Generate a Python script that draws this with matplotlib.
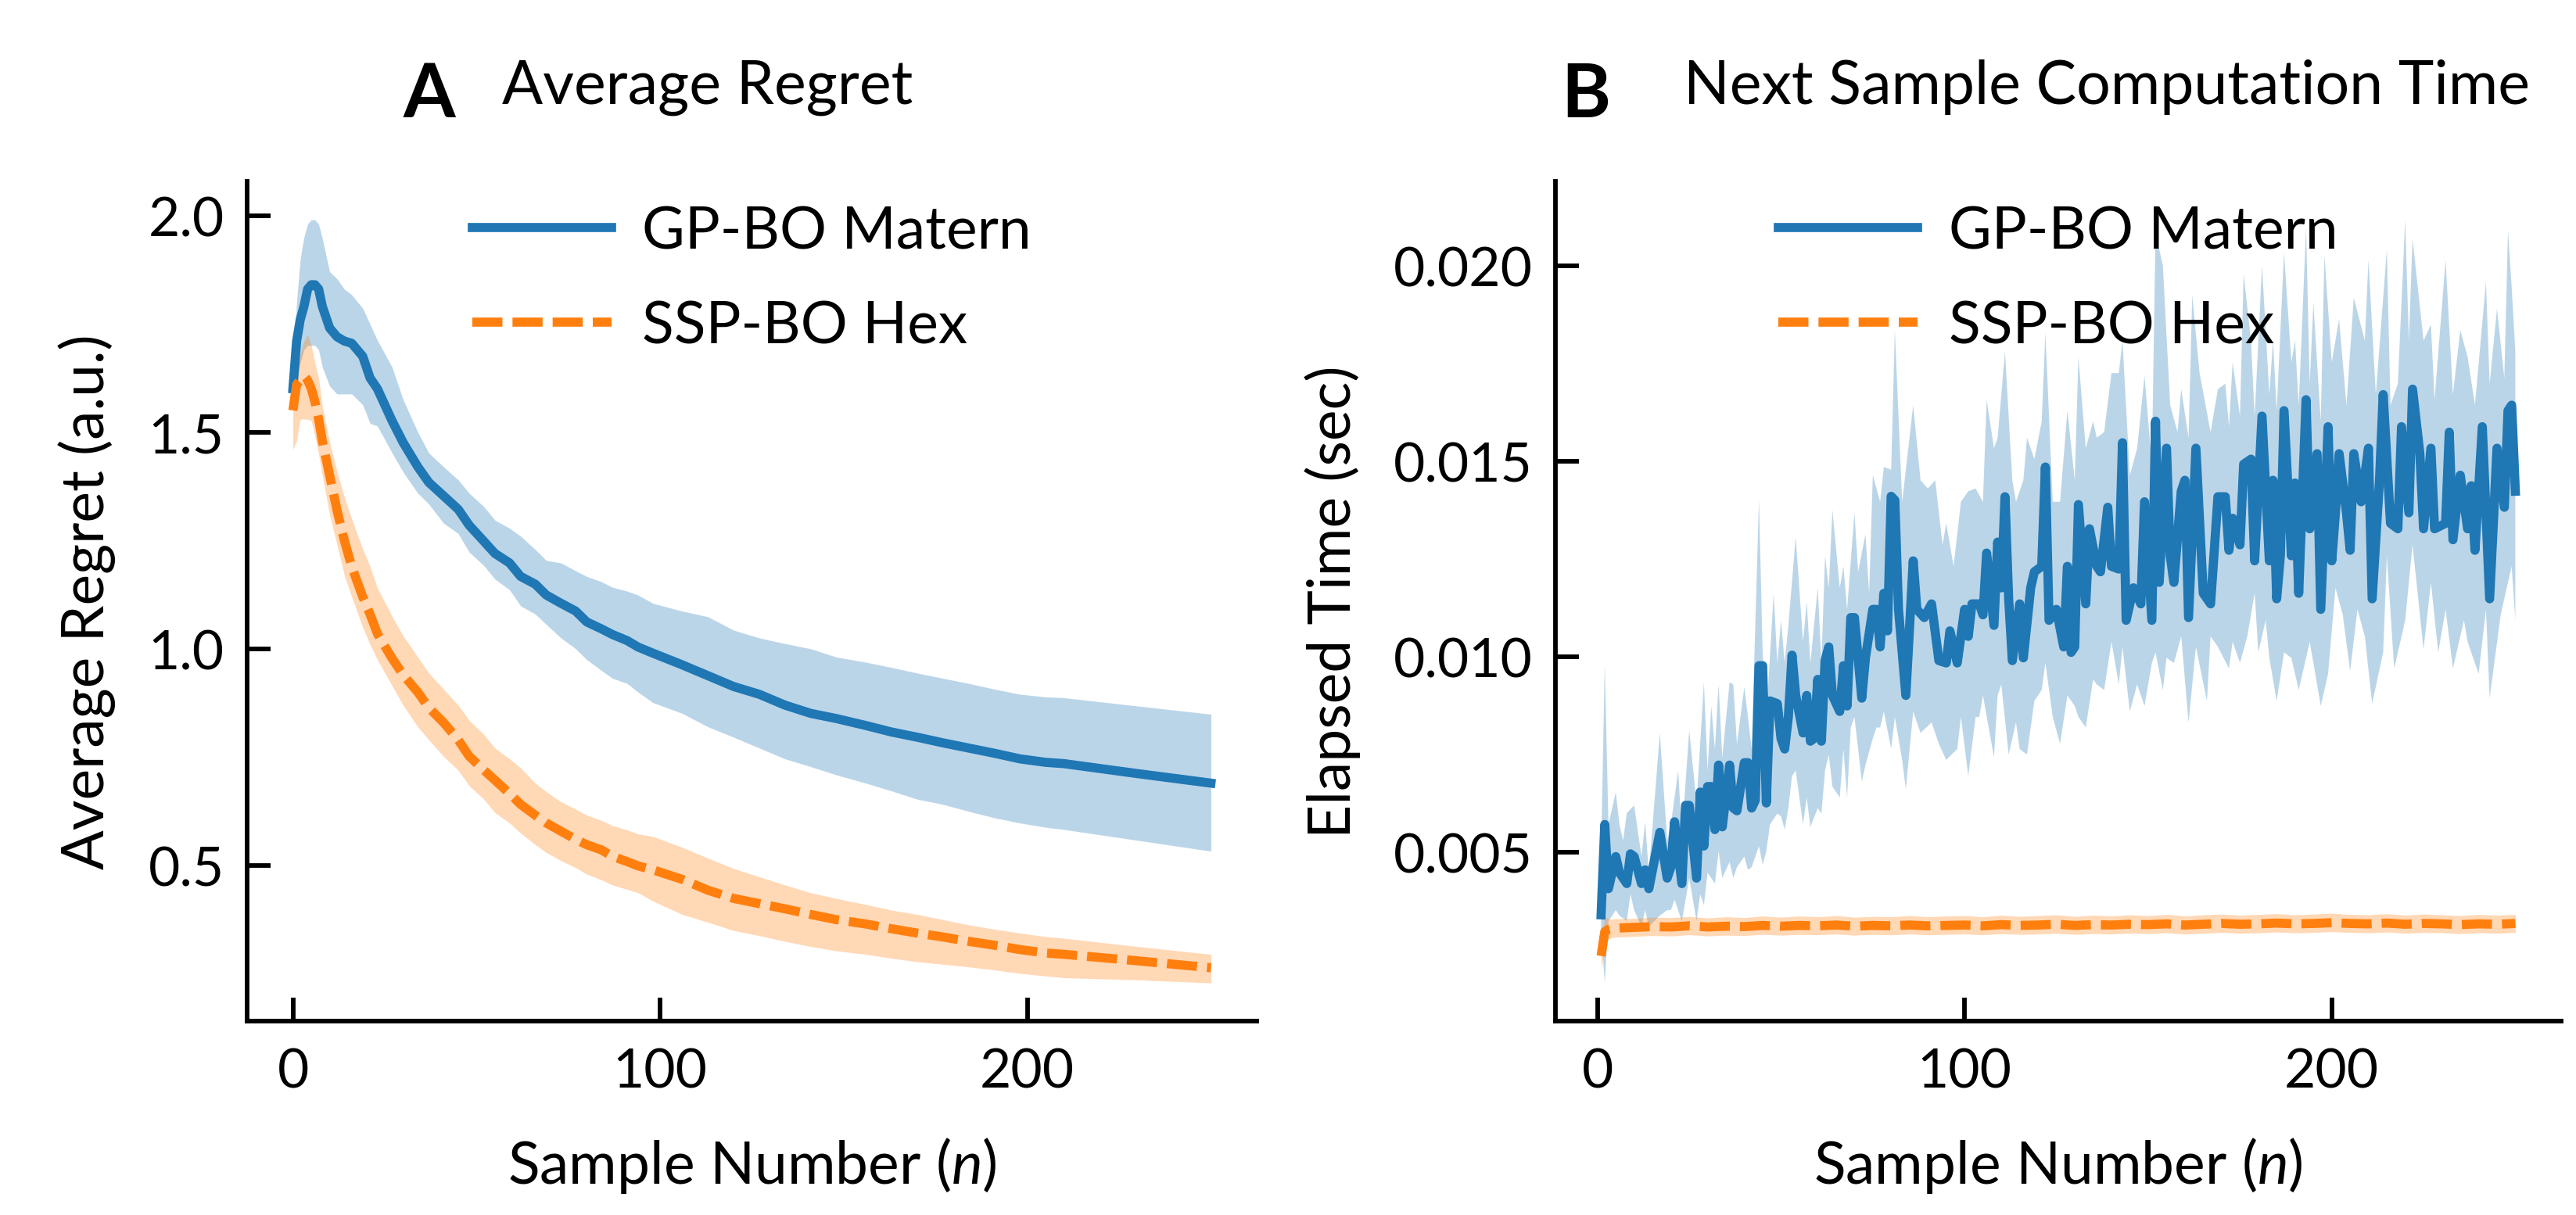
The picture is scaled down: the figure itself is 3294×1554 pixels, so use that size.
import numpy as np
import matplotlib
matplotlib.use("Agg")
import matplotlib.pyplot as plt

plt.rcParams['font.family'] = ['Lato', 'DejaVu Sans']
plt.rcParams['mathtext.fontset'] = 'custom'
plt.rcParams['mathtext.rm'] = 'Lato'
plt.rcParams['mathtext.it'] = 'Lato:italic'

blue = '#1f77b4'
orange = '#ff7f0e'

# ---- panel A: average regret ----
a_x = [0, 1, 2, 3, 4, 5, 6, 7, 8, 10, 12, 14, 16, 19, 21, 23, 27, 30, 34, 37, 41, 45, 48,
       52, 55, 59, 62, 66, 69, 73, 77, 80, 84, 87, 91, 94, 98, 106, 113, 120, 127, 134,
       141, 148, 156, 163, 170, 177, 184, 191, 198, 205, 210, 230, 250]
gp_mean = [1.60, 1.71, 1.76, 1.79, 1.83, 1.84, 1.84, 1.83, 1.79, 1.74, 1.72, 1.71, 1.705,
           1.675, 1.625, 1.60, 1.526, 1.476, 1.42, 1.384, 1.353, 1.322, 1.285, 1.248, 1.22,
           1.198, 1.167, 1.149, 1.124, 1.105, 1.087, 1.062, 1.046, 1.033, 1.019, 1.004, 0.99,
           0.963, 0.938, 0.913, 0.895, 0.87, 0.851, 0.839, 0.823, 0.808, 0.796, 0.783, 0.771,
           0.759, 0.746, 0.738, 0.735, 0.712, 0.69]
gp_hi = [1.64, 1.80, 1.90, 1.95, 1.98, 1.99, 1.99, 1.98, 1.947, 1.87, 1.854, 1.83, 1.817,
         1.786, 1.749, 1.712, 1.65, 1.575, 1.50, 1.452, 1.42, 1.39, 1.359, 1.328, 1.297,
         1.278, 1.26, 1.229, 1.204, 1.198, 1.18, 1.167, 1.155, 1.142, 1.133, 1.124, 1.105,
         1.087, 1.074, 1.043, 1.025, 1.012, 1.0, 0.981, 0.969, 0.957, 0.944, 0.932, 0.92,
         0.907, 0.895, 0.889, 0.887, 0.868, 0.849]
gp_lo = [1.58, 1.62, 1.66, 1.69, 1.70, 1.70, 1.70, 1.69, 1.65, 1.606, 1.588, 1.588, 1.588,
         1.563, 1.52, 1.514, 1.452, 1.408, 1.359, 1.334, 1.29, 1.266, 1.223, 1.192, 1.161,
         1.136, 1.099, 1.08, 1.056, 1.025, 1.0, 0.975, 0.95, 0.932, 0.92, 0.90, 0.876,
         0.851, 0.82, 0.796, 0.771, 0.746, 0.728, 0.709, 0.69, 0.672, 0.653, 0.641, 0.625,
         0.61, 0.598, 0.588, 0.583, 0.558, 0.533]
ssp_mean = [1.55, 1.61, 1.62, 1.63, 1.62, 1.60, 1.57, 1.53, 1.48, 1.40, 1.32, 1.25, 1.19,
            1.12, 1.08, 1.035, 0.978, 0.94, 0.90, 0.864, 0.83, 0.79, 0.752, 0.72, 0.697,
            0.666, 0.641, 0.616, 0.598, 0.579, 0.56, 0.548, 0.536, 0.521, 0.509, 0.499, 0.49,
            0.468, 0.443, 0.424, 0.412, 0.40, 0.387, 0.375, 0.365, 0.354, 0.344, 0.335, 0.325,
            0.316, 0.306, 0.298, 0.295, 0.28, 0.264]
ssp_hi = [1.58, 1.62, 1.68, 1.71, 1.724, 1.70, 1.66, 1.625, 1.56, 1.476, 1.41, 1.35, 1.30,
          1.23, 1.19, 1.14, 1.075, 1.03, 0.981, 0.944, 0.907, 0.87, 0.835, 0.802, 0.771,
          0.746, 0.725, 0.69, 0.67, 0.647, 0.63, 0.616, 0.604, 0.592, 0.582, 0.573, 0.567,
          0.542, 0.517, 0.493, 0.474, 0.455, 0.437, 0.424, 0.41, 0.397, 0.387, 0.375, 0.363,
          0.353, 0.344, 0.336, 0.332, 0.313, 0.295]
ssp_lo = [1.46, 1.48, 1.53, 1.53, 1.53, 1.526, 1.49, 1.45, 1.40, 1.31, 1.24, 1.17, 1.12,
          1.05, 1.01, 0.975, 0.915, 0.87, 0.82, 0.79, 0.752, 0.72, 0.684, 0.653, 0.622,
          0.598, 0.575, 0.548, 0.53, 0.511, 0.495, 0.48, 0.467, 0.455, 0.445, 0.437, 0.418,
          0.387, 0.369, 0.35, 0.338, 0.325, 0.313, 0.303, 0.295, 0.286, 0.278, 0.272, 0.266,
          0.259, 0.251, 0.245, 0.241, 0.236, 0.229]

# ---- panel B: computation time ----
b_gp_x = [1, 2, 3, 5, 6, 8, 9, 10, 12, 13, 14, 17, 19, 20, 21, 23, 24, 25, 27, 28, 29, 30,
          31, 32, 33, 34, 36, 37, 38, 40, 41, 42, 43, 44, 45, 46, 47, 49, 50, 51, 52, 53, 54,
          56, 57, 58, 59, 60, 61, 62, 63, 64, 66, 67, 68, 69, 70, 72, 73, 75, 76, 77, 78, 79,
          80, 81, 82, 83, 84, 86, 87, 89, 91, 93, 95, 96, 98, 100, 101, 102, 104, 105, 106,
          108, 109, 110, 111, 112, 113, 115, 116, 118, 119, 121, 122, 123, 125, 127, 128,
          129, 130, 131, 133, 134, 136, 137, 139, 140, 142, 143, 144, 146, 148, 149, 151,
          152, 153, 155, 156, 157, 159, 160, 161, 163, 165, 167, 169, 171, 172, 173, 175,
          176, 178, 179, 181, 183, 184, 185, 186, 187, 189, 190, 191, 193, 194, 196, 197,
          199, 200, 201, 202, 204, 205, 206, 208, 210, 211, 213, 214, 216, 218, 219, 221,
          222, 224, 225, 227, 228, 231, 232, 233, 235, 237, 238, 239, 241, 243, 245, 247,
          248, 249, 250]
b_gp_mean = [0.0034, 0.00571, 0.00407, 0.00489, 0.00448, 0.0042, 0.00496, 0.00489, 0.0042,
             0.00455, 0.00407, 0.00551, 0.00434, 0.00462, 0.00578, 0.0042, 0.0062, 0.0062,
             0.00434, 0.00654, 0.00516, 0.00668, 0.00668, 0.00558, 0.00723, 0.00565, 0.00723,
             0.00613, 0.00606, 0.00729, 0.00729, 0.00613, 0.00633, 0.00977, 0.00977, 0.00626,
             0.00887, 0.0088, 0.00791, 0.00764, 0.00846, 0.01004, 0.00901, 0.00805, 0.00901,
             0.00784, 0.00791, 0.00942, 0.00784, 0.0099, 0.01025, 0.00901, 0.0086, 0.00977,
             0.00874, 0.0110, 0.0110, 0.00894, 0.00997, 0.01121, 0.01121, 0.01025, 0.01162,
             0.01066, 0.0141, 0.0140, 0.01121, 0.01011, 0.00901, 0.01245, 0.01121, 0.011,
             0.01135, 0.0099, 0.00984, 0.01066, 0.00984, 0.01121, 0.01052, 0.01135, 0.01135,
             0.01107, 0.01265, 0.0108, 0.01293, 0.01176, 0.01409, 0.01148, 0.0099, 0.01135,
             0.00997, 0.01176, 0.01217, 0.01231, 0.01485, 0.01093, 0.01121, 0.01025, 0.01231,
             0.01011, 0.01025, 0.01389, 0.01135, 0.01327, 0.01231, 0.01217, 0.01382, 0.01231,
             0.01224, 0.01547, 0.01093, 0.01176, 0.01135, 0.01396, 0.01093, 0.01602, 0.0119,
             0.01533, 0.01258, 0.0119, 0.01423, 0.01451, 0.011, 0.01533, 0.01162, 0.01135,
             0.01409, 0.01409, 0.01272, 0.01354, 0.01286, 0.01492, 0.01505, 0.01245, 0.01615,
             0.01245, 0.01451, 0.01148, 0.01258, 0.01629, 0.01258, 0.01444, 0.01162, 0.01657,
             0.01327, 0.01519, 0.01121, 0.01588, 0.01245, 0.01368, 0.01519, 0.01368, 0.01272,
             0.01519, 0.01396, 0.01533, 0.01148, 0.01451, 0.0167, 0.01341, 0.01327, 0.01588,
             0.01368, 0.01684, 0.01519, 0.01327, 0.01533, 0.01327, 0.01341, 0.01574, 0.01299,
             0.01464, 0.01327, 0.01437, 0.01272, 0.01588, 0.01148, 0.01533, 0.01382, 0.01629,
             0.01643, 0.01423]

b_hi_x = [1, 2, 3, 5, 6, 7, 8, 10, 12, 13, 14, 17, 19, 20, 22, 23, 25, 27, 29, 30, 31, 32,
          33, 34, 36, 37, 38, 40, 41, 42, 44, 45, 46, 48, 49, 50, 51, 52, 54, 56, 57, 58, 60,
          61, 62, 63, 64, 66, 67, 68, 70, 71, 73, 74, 75, 77, 78, 80, 81, 83, 86, 88, 90, 92,
          94, 95, 97, 99, 101, 103, 105, 106, 108, 109, 111, 113, 114, 116, 117, 119, 121,
          122, 124, 126, 128, 130, 131, 133, 135, 136, 138, 140, 142, 143, 145, 147, 149,
          151, 152, 154, 156, 158, 159, 161, 162, 164, 167, 169, 171, 172, 173, 175, 176,
          178, 179, 181, 183, 184, 185, 187, 189, 190, 191, 193, 194, 195, 197, 198, 200,
          202, 204, 206, 209, 210, 212, 215, 216, 218, 220, 221, 222, 225, 227, 228, 231,
          233, 235, 237, 239, 242, 243, 245, 247, 248, 249, 250]
b_gp_hi = [0.0050, 0.00984, 0.00571, 0.00654, 0.00571, 0.0053, 0.006, 0.0062, 0.00489,
           0.00578, 0.00448, 0.00805, 0.0053, 0.00571, 0.00709, 0.00544, 0.00812, 0.00626,
           0.00935, 0.00709, 0.00874, 0.00764, 0.00929, 0.00743, 0.00935, 0.00929, 0.00777,
           0.00922, 0.00846, 0.00764, 0.01402, 0.01011, 0.00846, 0.01162, 0.00984, 0.01093,
           0.00984, 0.0108, 0.01306, 0.01038, 0.01141, 0.00984, 0.01176, 0.00984, 0.01258,
           0.01176, 0.01375, 0.01176, 0.01231, 0.01121, 0.01368, 0.01217, 0.01313, 0.01162,
           0.01464, 0.01396, 0.01485, 0.01478, 0.01835, 0.01396, 0.01643, 0.01451, 0.0143,
           0.01451, 0.01286, 0.01341, 0.01231, 0.01396, 0.01423, 0.0143, 0.01396, 0.01657,
           0.01533, 0.0156, 0.0178, 0.01451, 0.01396, 0.01451, 0.0156, 0.01505, 0.01602,
           0.01828, 0.01396, 0.01396, 0.01629, 0.01451, 0.01766, 0.01533, 0.01602, 0.0156,
           0.01574, 0.01725, 0.01725, 0.01808, 0.01464, 0.01533, 0.01718, 0.01492, 0.02082,
           0.02, 0.01643, 0.01574, 0.01684, 0.0156, 0.01924, 0.01725, 0.01574, 0.01684,
           0.01698, 0.01588, 0.01753, 0.01615, 0.01979, 0.01808, 0.01615, 0.02, 0.0167,
           0.01808, 0.01629, 0.02034, 0.01753, 0.01808, 0.01643, 0.02096, 0.01698, 0.01904,
           0.01602, 0.02027, 0.01753, 0.01863, 0.01643, 0.01918, 0.01808, 0.02014, 0.0167,
           0.02041, 0.01643, 0.01698, 0.02117, 0.01808, 0.02069, 0.01808, 0.01849, 0.01657,
           0.02014, 0.0167, 0.01835, 0.01766, 0.01643, 0.01959, 0.01698, 0.0189, 0.01712,
           0.02089, 0.01945, 0.0178]

b_lo_x = [1, 2, 3, 5, 6, 8, 9, 10, 12, 13, 14, 17, 19, 20, 21, 23, 25, 27, 28, 29, 30, 31,
          32, 33, 34, 36, 37, 38, 40, 41, 42, 44, 45, 46, 47, 49, 50, 51, 52, 53, 54, 56, 57,
          58, 60, 61, 62, 63, 64, 66, 67, 68, 69, 70, 72, 73, 75, 76, 77, 78, 80, 81, 83, 84,
          86, 88, 91, 93, 95, 98, 99, 101, 103, 104, 105, 108, 109, 110, 112, 114, 115, 117,
          119, 121, 122, 124, 126, 128, 130, 131, 133, 135, 136, 138, 140, 142, 143, 145,
          147, 149, 151, 152, 154, 155, 157, 159, 161, 163, 166, 167, 169, 172, 173, 175,
          177, 179, 180, 182, 183, 185, 187, 189, 191, 194, 195, 197, 199, 201, 203, 205,
          207, 209, 211, 214, 215, 217, 220, 222, 225, 227, 229, 231, 233, 236, 237, 240,
          242, 243, 246, 249, 250]
b_gp_lo = [0.00297, 0.00166, 0.00324, 0.00352, 0.00338, 0.00324, 0.00393, 0.00352, 0.0031,
           0.00352, 0.0031, 0.00338, 0.00352, 0.00352, 0.00379, 0.00324, 0.00434, 0.00324,
           0.00393, 0.00365, 0.00448, 0.00434, 0.0042, 0.00503, 0.00434, 0.00475, 0.00434,
           0.00462, 0.00489, 0.00455, 0.00462, 0.00516, 0.00468, 0.00503, 0.00571, 0.00599,
           0.00592, 0.00558, 0.00613, 0.00695, 0.00709, 0.00571, 0.0064, 0.00565, 0.00613,
           0.00599, 0.00709, 0.0075, 0.00668, 0.0064, 0.00764, 0.0064, 0.00819, 0.00846,
           0.00681, 0.00723, 0.00791, 0.00819, 0.00819, 0.0086, 0.00764, 0.00846, 0.00736,
           0.00661, 0.0086, 0.00805, 0.00832, 0.00777, 0.00736, 0.00764, 0.00846, 0.00695,
           0.00846, 0.00846, 0.00901, 0.00743, 0.00901, 0.00929, 0.0075, 0.00832, 0.00764,
           0.0075, 0.00887, 0.00915, 0.00984, 0.00846, 0.00777, 0.00901, 0.00874, 0.00846,
           0.00819, 0.00942, 0.00929, 0.00915, 0.01038, 0.00929, 0.01025, 0.0086, 0.00929,
           0.00874, 0.00984, 0.01011, 0.00915, 0.00997, 0.00984, 0.01052, 0.00832, 0.01025,
           0.00887, 0.01052, 0.01025, 0.0097, 0.01038, 0.00984, 0.01052, 0.01162, 0.01011,
           0.01093, 0.00997, 0.00887, 0.01011, 0.00997, 0.00915, 0.01038, 0.00984, 0.00874,
           0.00956, 0.01176, 0.01107, 0.00963, 0.01121, 0.01052, 0.0088, 0.01011, 0.01258,
           0.0097, 0.01093, 0.01286, 0.01018, 0.0119, 0.01011, 0.01121, 0.0097, 0.01093,
           0.01038, 0.00956, 0.01121, 0.00894, 0.01107, 0.01231, 0.01093]

b_ssp_x = [1, 2, 3, 4, 5, 10, 15, 20, 25, 30, 35, 40, 45, 50, 55, 60, 65, 70, 75, 80, 85,
           90, 95, 100, 105, 110, 115, 120, 125, 130, 135, 140, 145, 150, 155, 160, 165, 170,
           175, 180, 185, 190, 195, 200, 205, 210, 215, 220, 225, 230, 235, 240, 245, 250]
b_ssp_mean = [0.00235, 0.00297, 0.00303, 0.00305, 0.00306, 0.00308, 0.0031, 0.00309, 0.00312,
              0.00309, 0.00311, 0.0031, 0.00313, 0.00311, 0.00313, 0.00312, 0.00314, 0.00311,
              0.00313, 0.00312, 0.00314, 0.00312, 0.00313, 0.00314, 0.00312, 0.00315, 0.00313,
              0.00314, 0.00316, 0.00313, 0.00315, 0.00314, 0.00316, 0.00315, 0.00317, 0.00314,
              0.00316, 0.00318, 0.00316, 0.00317, 0.00319, 0.00317, 0.00318, 0.0032, 0.00318,
              0.00317, 0.00319, 0.00316, 0.00318, 0.00317, 0.00315, 0.00317, 0.00316, 0.00318]
b_ssp_hi = [0.0027, 0.00335, 0.0033, 0.00329, 0.0033, 0.00331, 0.00334, 0.00333, 0.00336,
            0.00332, 0.00335, 0.00333, 0.00337, 0.00334, 0.00337, 0.00335, 0.00338, 0.00334,
            0.00336, 0.00335, 0.00338, 0.00335, 0.00337, 0.00338, 0.00335, 0.00339, 0.00336,
            0.00338, 0.0034, 0.00336, 0.00339, 0.00337, 0.0034, 0.00338, 0.00341, 0.00337,
            0.0034, 0.00342, 0.00339, 0.00341, 0.00343, 0.0034, 0.00342, 0.00344, 0.00341,
            0.0034, 0.00343, 0.00339, 0.00342, 0.0034, 0.00338, 0.00341, 0.00339, 0.00341]
b_ssp_lo = [0.002, 0.0026, 0.00278, 0.00282, 0.00283, 0.00285, 0.00287, 0.00286, 0.00289,
            0.00286, 0.00288, 0.00287, 0.0029, 0.00288, 0.0029, 0.00289, 0.00291, 0.00288,
            0.0029, 0.00289, 0.00291, 0.00289, 0.0029, 0.00291, 0.00289, 0.00292, 0.0029,
            0.00291, 0.00293, 0.0029, 0.00292, 0.00291, 0.00293, 0.00292, 0.00294, 0.00291,
            0.00293, 0.00295, 0.00293, 0.00294, 0.00296, 0.00294, 0.00295, 0.00297, 0.00295,
            0.00294, 0.00296, 0.00293, 0.00295, 0.00294, 0.00292, 0.00294, 0.00293, 0.00295]

labels = ['GP-BO Matern', 'SSP-BO Hex']
fs = 18

fig = plt.figure(figsize=(10.98, 5.1833), dpi=300)
axA = fig.add_axes([0.0959, 0.1595, 0.392, 0.6905])
axB = fig.add_axes([0.6038, 0.1595, 0.3904, 0.6905])

lw = 2.8
dash = (3.3, 1.1)

axA.plot(a_x, gp_mean, color=blue, lw=lw, label=labels[0])
axA.fill_between(a_x, gp_lo, gp_hi, color=blue, alpha=0.3, lw=0)
axA.plot(a_x, ssp_mean, color=orange, lw=lw, dashes=dash, label=labels[1])
axA.fill_between(a_x, ssp_lo, ssp_hi, color=orange, alpha=0.3, lw=0)

axB.plot(b_gp_x, b_gp_mean, color=blue, lw=lw, label=labels[0])
axB.fill(np.r_[b_hi_x, b_lo_x[::-1]], np.r_[b_gp_hi, b_gp_lo[::-1]],
         color=blue, alpha=0.3, lw=0)
axB.plot(b_ssp_x, b_ssp_mean, color=orange, lw=lw, dashes=dash, label=labels[1])
axB.fill_between(b_ssp_x, b_ssp_lo, b_ssp_hi, color=orange, alpha=0.3, lw=0)

axA.set_yticks([0.5, 1.0, 1.5, 2.0])
axB.set_yticks([0.005, 0.010, 0.015, 0.020])
axB.set_yticklabels(['0.005', '0.010', '0.015', '0.020'])

for ax in (axA, axB):
    ax.set_xticks([0, 100, 200])
    for s in ('top', 'right'):
        ax.spines[s].set_visible(False)
    for s in ('left', 'bottom'):
        ax.spines[s].set_linewidth(1.4)
    ax.tick_params(direction='in', length=7.2, width=1.4, labelsize=16.7, pad=7)
    ax.tick_params(axis='x', pad=8)
    ax.set_xlabel('Sample Number ($n$)', fontsize=fs, labelpad=12)
    ax.legend(loc='upper center', frameon=False, fontsize=fs, handlelength=2.37,
              handletextpad=0.53, labelspacing=0.69, borderpad=0.39, borderaxespad=0)

axA.set_ylabel('Average Regret (a.u.)', fontsize=fs, labelpad=10)
axB.set_ylabel('Elapsed Time (sec)', fontsize=fs, labelpad=10)

# panel titles
fig.text(516 / 3294, 1 - 150 / 1555, 'A', fontsize=23, fontweight='bold', ha='left', va='baseline')
fig.text(642 / 3294, 1 - 133 / 1555, 'Average Regret', fontsize=18.5, ha='left', va='baseline')
fig.text(1996 / 3294, 1 - 150 / 1555, 'B', fontsize=23, fontweight='bold', ha='left', va='baseline')
fig.text(2153 / 3294, 1 - 133 / 1555, 'Next Sample Computation Time', fontsize=18.5, ha='left', va='baseline')

fig.savefig('out.png', dpi=300)
